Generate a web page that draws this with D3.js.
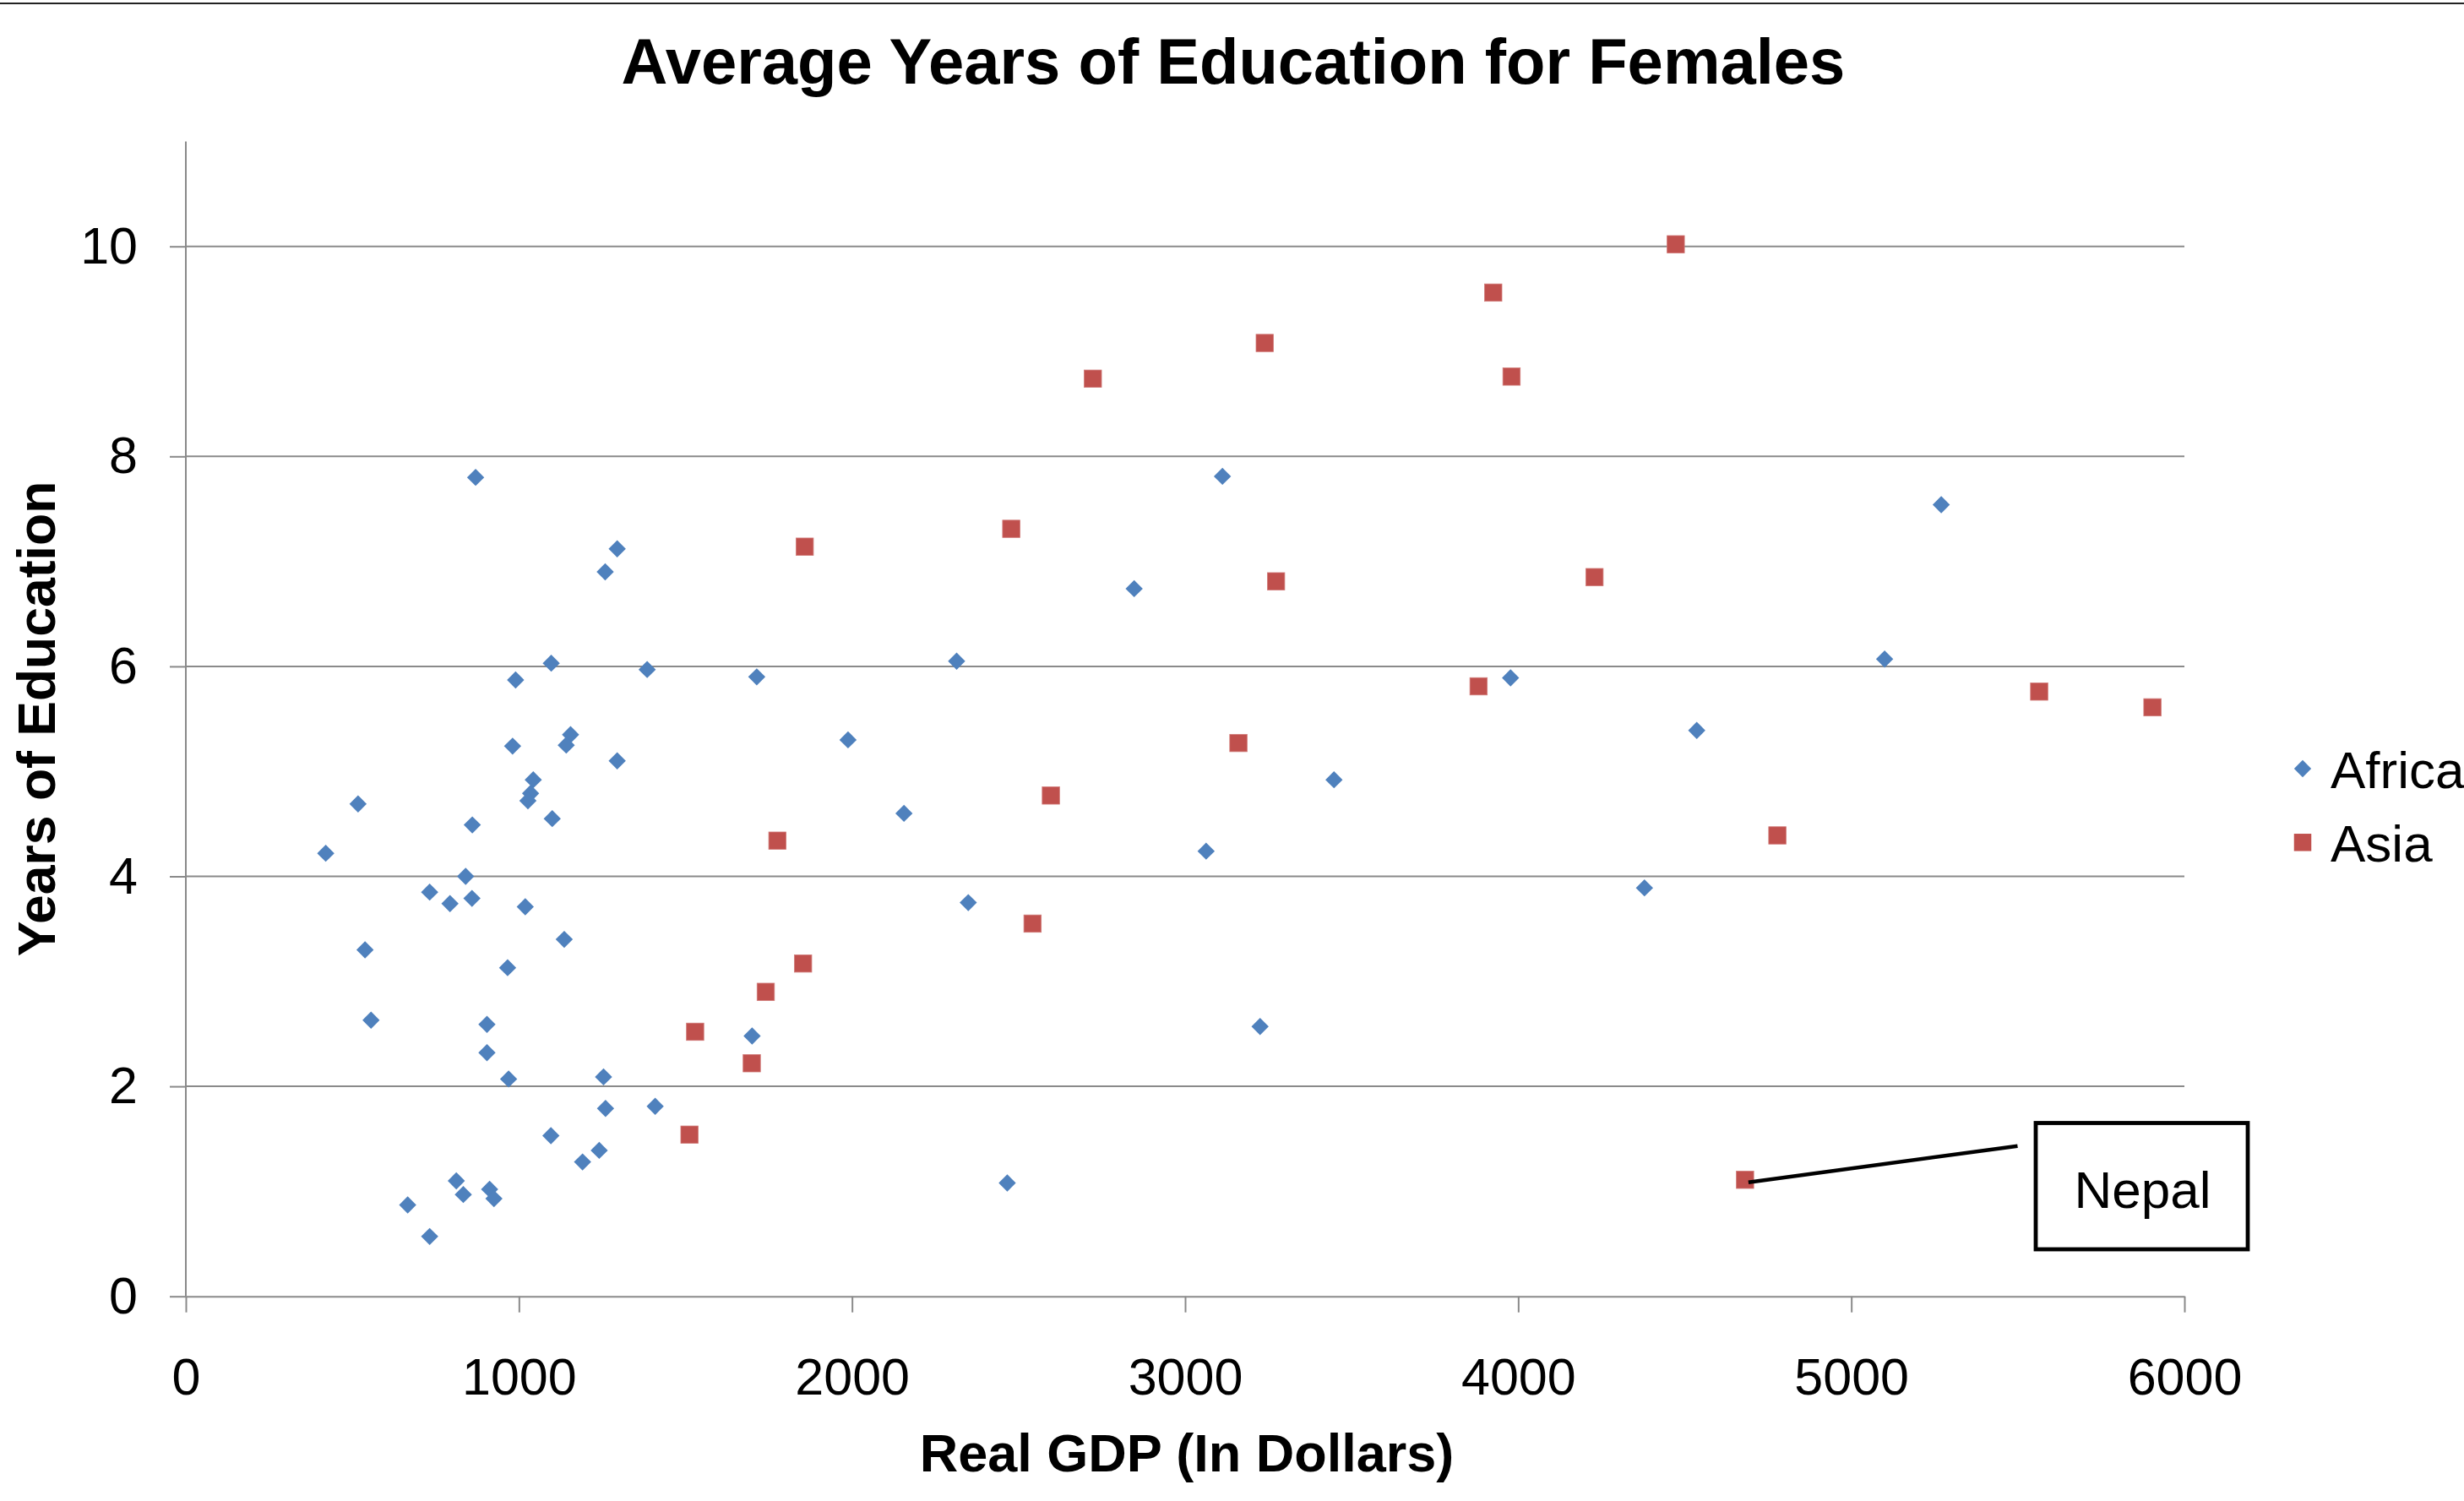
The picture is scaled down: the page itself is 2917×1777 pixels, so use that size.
<!DOCTYPE html>
<html>
<head>
<meta charset="utf-8">
<script src="https://cdn.jsdelivr.net/npm/d3@7"></script>
<style>
  html, body { margin: 0; padding: 0; background: #fff; overflow: hidden; }
  svg { display: block; font-family: "Liberation Sans", Arial, sans-serif; }
</style>
</head>
<body>
<svg id="chart" width="2917" height="1777"></svg>
<script>
// ---------- data ----------
const chartTitle = "Average Years of Education for Females";
const xTitle = "Real GDP (In Dollars)";
const yTitle = "Years of Education";
const seriesNames = ["Africa", "Asia"];

const africaGDP = [870, 1295, 1259, 1097, 990, 1385, 1714, 1155, 1142, 981, 1295, 1988,
  1043, 1035, 1027, 517, 860, 1100, 420, 840, 732, 793, 859, 1019, 1136, 538, 966,
  556, 904, 1700, 904, 969, 1254, 1260, 1409, 1096, 1241, 1191, 812, 833, 912, 925,
  666, 732, 3112, 2847, 2314, 3977, 3447, 2156, 3063, 2349, 3225, 2466, 5270, 5100,
  4536, 4379];
const africaEdu = [7.80, 7.12, 6.90, 6.03, 5.87, 5.97, 5.90, 5.35, 5.25, 5.24, 5.10, 5.30,
  4.92, 4.79, 4.72, 4.69, 4.49, 4.55, 4.22, 4.00, 3.85, 3.74, 3.79, 3.71, 3.40, 3.30, 3.13,
  2.63, 2.59, 2.48, 2.32, 2.07, 2.09, 1.79, 1.81, 1.53, 1.39, 1.28, 1.10, 0.97, 1.02, 0.93,
  0.87, 0.57, 7.81, 6.74, 6.05, 5.89, 4.92, 4.60, 4.24, 3.75, 2.57, 1.08, 7.54, 6.07,
  5.39, 3.89];

const asiaGDP = [1858, 1776, 1853, 1741, 1529, 1699, 1512, 3925, 3239, 2723, 3980, 2478,
  3273, 3881, 3160, 2597, 2542, 4473, 4229, 5564, 5904, 4778, 4681];
const asiaEdu = [7.14, 4.34, 3.17, 2.90, 2.52, 2.22, 1.54, 9.56, 9.08, 8.74, 8.76, 7.31,
  6.81, 5.81, 5.27, 4.77, 3.55, 10.02, 6.85, 5.76, 5.61, 4.39, 1.11];

const xTicks = [0, 1000, 2000, 3000, 4000, 5000, 6000];
const yTicks = [0, 2, 4, 6, 8, 10];

const annotationLabel = "Nepal";
const annotationGDP = 4681;
const annotationEdu = 1.11;

// ---------- layout ----------
const W = 2917, H = 1777;
const plot = { left: 220, right: 2586, top: 167.4, bottom: 1534.7 };
const gridColor = "#8a8a8a";
const africaColor = "#4F81BD";
const asiaColor = "#C0504D";
const FONT = 61;

const svg = d3.select("#chart");
svg.append("rect").attr("width", W).attr("height", H).attr("fill", "#fff");

// top border line
svg.append("line").attr("x1", 0).attr("x2", W).attr("y1", 4).attr("y2", 4)
  .attr("stroke", "#222").attr("stroke-width", 2);

const x = d3.scaleLinear().domain([0, 6000]).range([plot.left, plot.right]);
const y = d3.scaleLinear().domain([0, 11]).range([plot.bottom, plot.top]);

// gridlines
svg.append("g").selectAll("line").data(yTicks.filter(d => d > 0)).join("line")
  .attr("x1", plot.left).attr("x2", plot.right)
  .attr("y1", d => y(d)).attr("y2", d => y(d))
  .attr("stroke", gridColor).attr("stroke-width", 2);

// y axis
const yAxis = svg.append("g").attr("transform", `translate(${plot.left},0)`)
  .call(d3.axisLeft(y).tickValues(yTicks).tickFormat(d3.format("d"))
    .tickSize(19).tickSizeOuter(0).tickPadding(38));
yAxis.select(".domain").attr("stroke", gridColor).attr("stroke-width", 2)
  .attr("d", `M0,${plot.top}V${plot.bottom}`);
yAxis.selectAll(".tick line").attr("stroke", gridColor).attr("stroke-width", 2);
yAxis.selectAll(".tick text").attr("font-size", FONT).attr("fill", "#000")
  .attr("font-family", "Liberation Sans, Arial, sans-serif");

// x axis
const xAxis = svg.append("g").attr("transform", `translate(0,${plot.bottom})`)
  .call(d3.axisBottom(x).tickValues(xTicks).tickFormat(d3.format("d"))
    .tickSize(19).tickSizeOuter(0).tickPadding(54));
xAxis.select(".domain").attr("stroke", gridColor).attr("stroke-width", 2);
xAxis.selectAll(".tick line").attr("stroke", gridColor).attr("stroke-width", 2);
xAxis.selectAll(".tick text").attr("font-size", FONT).attr("fill", "#000")
  .attr("font-family", "Liberation Sans, Arial, sans-serif");

// ---------- points ----------
const africa = africaGDP.map((g, i) => ({ g, e: africaEdu[i] }));
const asia = asiaGDP.map((g, i) => ({ g, e: asiaEdu[i] }));

const R = 10.2; // half-diagonal of diamond
function diamondPath(cx, cy) {
  return `M${cx},${cy - R}L${cx + R},${cy}L${cx},${cy + R}L${cx - R},${cy}Z`;
}
const S = 20.5;

svg.append("g").selectAll("path").data(africa).join("path")
  .attr("d", d => diamondPath(x(d.g), y(d.e)))
  .attr("fill", africaColor);

svg.append("g").selectAll("rect").data(asia).join("rect")
  .attr("x", d => x(d.g) - S / 2).attr("y", d => y(d.e) - S / 2)
  .attr("width", S).attr("height", S)
  .attr("fill", asiaColor).attr("stroke", "#d07a78").attr("stroke-width", 0.8);

// ---------- annotation ----------
const box = { x: 2410, y: 1329.5, w: 251, h: 149.5 };
svg.append("line")
  .attr("x1", x(annotationGDP) + 4).attr("y1", y(annotationEdu) + 3)
  .attr("x2", 2388.5).attr("y2", 1356.7)
  .attr("stroke", "#000").attr("stroke-width", 4.5);
svg.append("rect").attr("x", box.x).attr("y", box.y).attr("width", box.w).attr("height", box.h)
  .attr("fill", "#fff").attr("stroke", "#000").attr("stroke-width", 4.8);
svg.append("text").attr("x", box.x + box.w / 2 + 1).attr("y", 1429.5)
  .attr("text-anchor", "middle").attr("font-size", 62).text(annotationLabel);

// ---------- titles ----------
svg.append("text").attr("x", 1460).attr("y", 99).attr("text-anchor", "middle")
  .attr("font-size", 76).attr("font-weight", "bold").text(chartTitle);
svg.append("text").attr("x", 1405).attr("y", 1742).attr("text-anchor", "middle")
  .attr("font-size", 63).attr("font-weight", "bold").text(xTitle);
svg.append("text").attr("transform", "translate(65,851) rotate(-90)")
  .attr("text-anchor", "middle").attr("font-size", 62.5).attr("font-weight", "bold").text(yTitle);

// ---------- legend ----------
const legendY = [910, 997.3];
const legend = svg.append("g");
seriesNames.forEach((name, i) => {
  const cy = legendY[i];
  if (i === 0) {
    legend.append("path").attr("d", diamondPath(2726, cy)).attr("fill", africaColor);
  } else {
    legend.append("rect").attr("x", 2726 - S / 2).attr("y", cy - S / 2)
      .attr("width", S).attr("height", S).attr("fill", asiaColor);
  }
  legend.append("text").attr("x", 2759).attr("y", cy + 22.5)
    .attr("font-size", 62).text(name);
});
</script>
</body>
</html>
